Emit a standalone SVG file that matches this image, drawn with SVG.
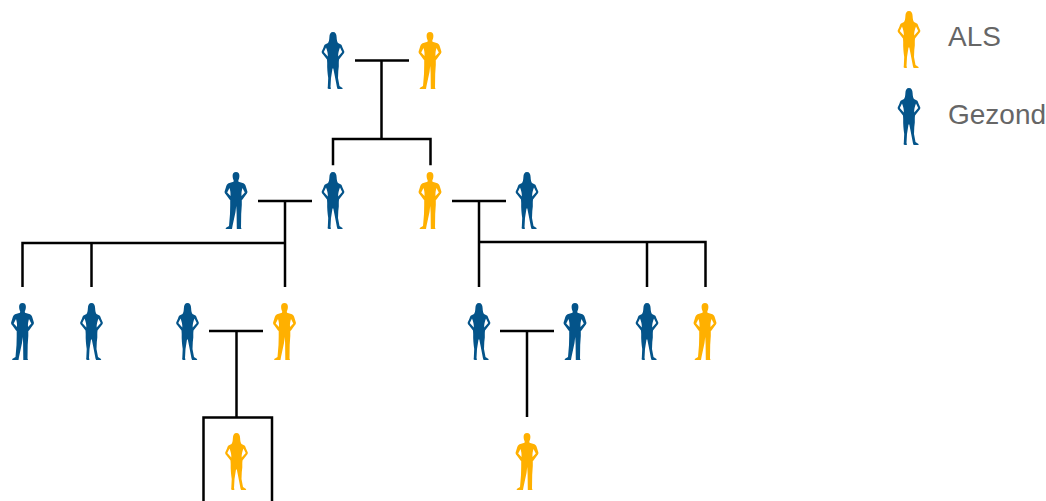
<svg xmlns="http://www.w3.org/2000/svg" width="1046" height="501" viewBox="0 0 1046 501">
<style>
.blue{fill:#04548a}.gold{fill:#ffb000}
.c line,.c path{stroke:#000;stroke-width:2.5;fill:none}
text{font-family:"Liberation Sans",Arial,sans-serif;font-size:28px;fill:#666}
</style>
<defs>
<path id="f" fill-rule="evenodd" d="M0 0C2.500 0 3.500 2 3.600 5C3.700 8 4.200 10 5 11L8 12.500C8.800 13 9 14 9.500 15.500L11.300 19.500C11.500 20.500 11 21.200 10.300 22L6 27.500L5.800 30C6 33 5.800 36 5.300 39L5 46L6.500 54L9.500 56C10 56.800 9.500 57 8.500 57L4.600 57L4 55.500L1.800 44L.3 36.500L-.5 36.500L-2 46L-2.500 55L-2 56.500C-2.200 57-3 57-4 57C-5.300 57-5.600 56.300-5.200 55L-4.800 46C-5.500 41-6 36-5.800 31L-6 27.500L-10.300 22C-11 21.200-11.500 20.500-11.300 19.500L-9.500 15.500C-9 14-8.800 13-8 12.500L-5 11C-4.200 10-3.700 8-3.600 5C-3.500 2-2.500 0 0 0ZM-7 15.500L-9.200 20L-5.200 24.500C-5 21.500-5.800 18.500-7 15.500ZM7 15.500C5.800 18.500 5 21.500 5.200 24.500L9.200 20Z"/>
<path id="m" fill-rule="evenodd" d="M0 0C2.300 0 3.400 1.500 3.400 3.800C3.400 6 2.800 7.500 2.300 8.500L2.500 9.700L7.500 11.200C9 12 9.500 13.200 10 15L11.400 19.500C11.600 20.500 11 21.500 10.300 22.300L6.500 27.500L5.800 28L5.800 33L5.200 42L5 55.500L5.500 57L.8 57L.6 40L.2 34L-.5 40L-3.500 54L-4 57L-10 57C-10.800 56.600-10.200 56-9.500 55.600L-7 54L-6 42L-5.800 33L-5.800 28L-6.500 27.500L-10.300 22.300C-11 21.500-11.600 20.500-11.400 19.500L-10 15C-9.500 13.200-9 12-7.500 11.200L-2.500 9.700L-2.300 8.500C-2.800 7.500-3.400 6-3.400 3.800C-3.400 1.500-2.300 0 0 0ZM-6.500 16L-8.800 20.500L-5.500 24C-5.300 21-5.700 18.500-6.500 16ZM6.500 16C5.700 18.500 5.300 21 5.500 24L8.800 20.500Z"/>
</defs>
<g id="connectors" class="c">
<line x1="355" y1="60.500" x2="409" y2="60.500"/><line x1="381.500" y1="60" x2="381.500" y2="139"/>
<path d="M333 164V139H430.500V164" stroke-linecap="square"/>
<line x1="258" y1="201" x2="312" y2="201"/><line x1="285" y1="201" x2="285" y2="287"/>
<path d="M22.500 287V243H285"/><line x1="91.500" y1="243" x2="91.500" y2="287"/>
<line x1="452" y1="201" x2="506" y2="201"/><line x1="479" y1="201" x2="479" y2="287"/>
<path d="M479 242H705.500V287"/><line x1="647" y1="242" x2="647" y2="287"/>
<line x1="209" y1="331" x2="263" y2="331"/><line x1="236.500" y1="331" x2="236.500" y2="417"/>
<path d="M203.500 501V417.500H272V501"/>
<line x1="500" y1="331" x2="554" y2="331"/><line x1="527" y1="331" x2="527" y2="417"/>
</g>
<g id="n1"><use href="#f" class="blue" x="333" y="32"/></g>
<g id="n2"><use href="#m" class="gold" x="430" y="32"/></g>
<g id="n3"><use href="#m" class="blue" x="236" y="172"/></g>
<g id="n4"><use href="#f" class="blue" x="333" y="172"/></g>
<g id="n5"><use href="#m" class="gold" x="430" y="172"/></g>
<g id="n6"><use href="#f" class="blue" x="527" y="172"/></g>
<g id="n7"><use href="#m" class="blue" x="22.500" y="303"/></g>
<g id="n8"><use href="#f" class="blue" x="91.500" y="303"/></g>
<g id="n9"><use href="#f" class="blue" x="187.500" y="303"/></g>
<g id="n10"><use href="#m" class="gold" x="284.500" y="303"/></g>
<g id="n11"><use href="#f" class="blue" x="479" y="303"/></g>
<g id="n12"><use href="#m" class="blue" x="575" y="303"/></g>
<g id="n13"><use href="#f" class="blue" x="647" y="303"/></g>
<g id="n14"><use href="#m" class="gold" x="705" y="303"/></g>
<g id="n15"><use href="#f" class="gold" x="236.500" y="433"/></g>
<g id="n16"><use href="#m" class="gold" x="527" y="433"/></g>
<g id="legend-als"><use href="#f" class="gold" x="909" y="11"/><text x="948" y="45.500">ALS</text></g>
<g id="legend-gezond"><use href="#f" class="blue" x="909" y="88"/><text x="948" y="123.500">Gezond</text></g>
</svg>
